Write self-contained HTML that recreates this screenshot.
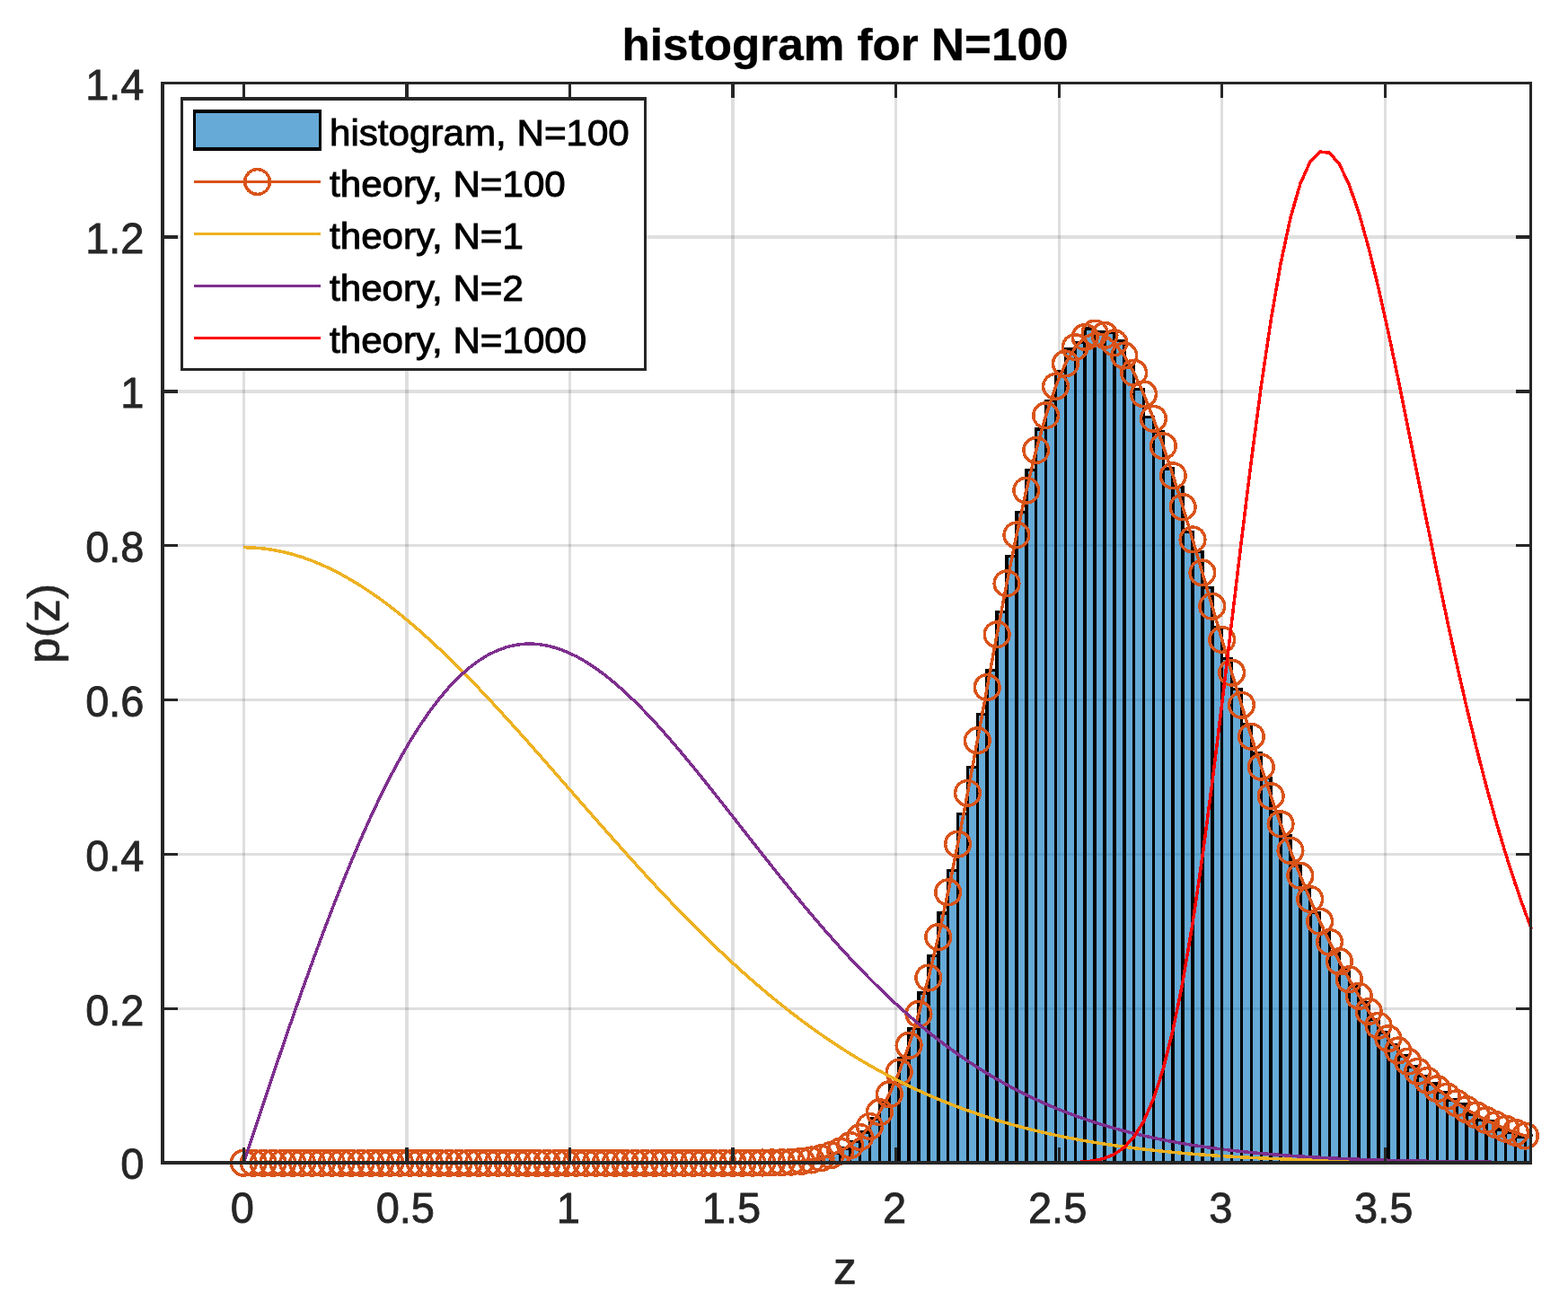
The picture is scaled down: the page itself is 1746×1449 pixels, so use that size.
<!DOCTYPE html>
<html lang="en"><head><meta charset="utf-8"><title>histogram for N=100</title>
<style>html,body{margin:0;padding:0;background:#fff}svg{display:block}text{font-family:"Liberation Sans",sans-serif}.tk{font-size:47px;fill:#262626;stroke:#262626;stroke-width:0.8px}.lb{font-size:51.7px;fill:#262626;stroke:#262626;stroke-width:0.7px}.ti{font-size:51.25px;font-weight:bold;fill:#000;stroke:#000;stroke-width:0.4px}.lg{font-size:42.15px;fill:#000;stroke:#000;stroke-width:1px}</style></head><body>
<svg width="1746" height="1449" viewBox="0 0 1746 1449">
<rect width="1746" height="1449" fill="#fff"/>
<defs><clipPath id="ax"><rect x="181" y="91.36" width="1525" height="1204.81"/></clipPath></defs>
<g fill="#262626" fill-opacity="0.15">
<rect x="270" y="94" width="3" height="1199"/>
<rect x="451" y="94" width="4" height="1199"/>
<rect x="633" y="94" width="3" height="1199"/>
<rect x="814" y="94" width="4" height="1199"/>
<rect x="996" y="94" width="3" height="1199"/>
<rect x="1178" y="94" width="3" height="1199"/>
<rect x="1359" y="94" width="3" height="1199"/>
<rect x="1541" y="94" width="3" height="1199"/>
<rect x="183" y="1122" width="1520" height="3"/>
<rect x="183" y="950" width="1520" height="3"/>
<rect x="183" y="778" width="1520" height="3"/>
<rect x="183" y="606" width="1520" height="3"/>
<rect x="183" y="434" width="1520" height="4"/>
<rect x="183" y="262" width="1520" height="4"/>
</g>
<g clip-path="url(#ax)">
<g fill="#0072bd" fill-opacity="0.6" stroke="#000" stroke-width="3.5" stroke-linejoin="miter" shape-rendering="crispEdges">
<rect x="914.04" y="1288.41" width="10.89" height="6.76"/>
<rect x="924.93" y="1284.57" width="10.89" height="10.6"/>
<rect x="935.83" y="1279.03" width="10.89" height="16.14"/>
<rect x="946.72" y="1271.29" width="10.89" height="23.88"/>
<rect x="957.61" y="1260.78" width="10.89" height="34.39"/>
<rect x="968.51" y="1245.92" width="10.89" height="49.25"/>
<rect x="979.4" y="1229.11" width="10.89" height="66.06"/>
<rect x="990.3" y="1206.84" width="10.89" height="88.33"/>
<rect x="1001.19" y="1178.26" width="10.89" height="116.91"/>
<rect x="1012.09" y="1145.59" width="10.89" height="149.58"/>
<rect x="1022.98" y="1105.83" width="10.89" height="189.34"/>
<rect x="1033.87" y="1064.6" width="10.89" height="230.57"/>
<rect x="1044.77" y="1016.75" width="10.89" height="278.42"/>
<rect x="1055.66" y="969.66" width="10.89" height="325.51"/>
<rect x="1066.56" y="906.65" width="10.89" height="388.52"/>
<rect x="1077.45" y="854.6" width="10.89" height="440.57"/>
<rect x="1088.34" y="795.64" width="10.89" height="499.53"/>
<rect x="1099.24" y="746.52" width="10.89" height="548.65"/>
<rect x="1110.13" y="681.68" width="10.89" height="613.49"/>
<rect x="1121.03" y="619.48" width="10.89" height="675.69"/>
<rect x="1131.92" y="570.65" width="10.89" height="724.52"/>
<rect x="1142.82" y="523.36" width="10.89" height="771.81"/>
<rect x="1153.71" y="477.87" width="10.89" height="817.3"/>
<rect x="1164.6" y="446.49" width="10.89" height="848.68"/>
<rect x="1175.5" y="413.3" width="10.89" height="881.87"/>
<rect x="1186.39" y="389.01" width="10.89" height="906.16"/>
<rect x="1197.29" y="381.43" width="10.89" height="913.74"/>
<rect x="1208.18" y="366.06" width="10.89" height="929.11"/>
<rect x="1219.08" y="369.28" width="10.89" height="925.89"/>
<rect x="1229.97" y="370.22" width="10.89" height="924.95"/>
<rect x="1240.86" y="379.48" width="10.89" height="915.69"/>
<rect x="1251.76" y="407.11" width="10.89" height="888.06"/>
<rect x="1262.65" y="433.7" width="10.89" height="861.47"/>
<rect x="1273.55" y="464.49" width="10.89" height="830.68"/>
<rect x="1284.44" y="480.92" width="10.89" height="814.25"/>
<rect x="1295.33" y="521.95" width="10.89" height="773.22"/>
<rect x="1306.23" y="542.56" width="10.89" height="752.61"/>
<rect x="1317.12" y="592.35" width="10.89" height="702.82"/>
<rect x="1328.02" y="614.38" width="10.89" height="680.79"/>
<rect x="1338.91" y="654.47" width="10.89" height="640.7"/>
<rect x="1349.81" y="699.17" width="10.89" height="596"/>
<rect x="1360.7" y="733.31" width="10.89" height="561.86"/>
<rect x="1371.59" y="767.65" width="10.89" height="527.52"/>
<rect x="1382.49" y="806.82" width="10.89" height="488.35"/>
<rect x="1393.38" y="838.9" width="10.89" height="456.27"/>
<rect x="1404.28" y="866.7" width="10.89" height="428.47"/>
<rect x="1415.17" y="904.7" width="10.89" height="390.47"/>
<rect x="1426.07" y="930.69" width="10.89" height="364.48"/>
<rect x="1436.96" y="963.81" width="10.89" height="331.36"/>
<rect x="1447.85" y="990.62" width="10.89" height="304.55"/>
<rect x="1458.75" y="1016.61" width="10.89" height="278.56"/>
<rect x="1469.64" y="1039.18" width="10.89" height="255.99"/>
<rect x="1480.54" y="1061.77" width="10.89" height="233.4"/>
<rect x="1491.43" y="1080.91" width="10.89" height="214.26"/>
<rect x="1502.32" y="1098.75" width="10.89" height="196.42"/>
<rect x="1513.22" y="1116.86" width="10.89" height="178.31"/>
<rect x="1524.11" y="1135.49" width="10.89" height="159.68"/>
<rect x="1535.01" y="1150.02" width="10.89" height="145.15"/>
<rect x="1545.9" y="1163.42" width="10.89" height="131.75"/>
<rect x="1556.8" y="1176.15" width="10.89" height="119.02"/>
<rect x="1567.69" y="1187.81" width="10.89" height="107.36"/>
<rect x="1578.58" y="1198.44" width="10.89" height="96.73"/>
<rect x="1589.48" y="1207.04" width="10.89" height="88.13"/>
<rect x="1600.37" y="1216.26" width="10.89" height="78.91"/>
<rect x="1611.27" y="1224.97" width="10.89" height="70.2"/>
<rect x="1622.16" y="1229.84" width="10.89" height="65.33"/>
<rect x="1633.05" y="1241.01" width="10.89" height="54.16"/>
<rect x="1643.95" y="1247.26" width="10.89" height="47.91"/>
<rect x="1654.84" y="1249.03" width="10.89" height="46.14"/>
<rect x="1665.74" y="1257.87" width="10.89" height="37.3"/>
<rect x="1676.63" y="1261.43" width="10.89" height="33.74"/>
<rect x="1687.53" y="1266.15" width="10.89" height="29.02"/>
<rect x="1698.42" y="1264.67" width="10.89" height="30.5"/>
<rect x="1709.31" y="1269.93" width="10.89" height="25.24"/>
</g>
<polyline points="271.28,1295.17 282.17,1295.17 293.07,1295.17 303.96,1295.17 314.86,1295.17 325.75,1295.17 336.65,1295.17 347.54,1295.17 358.43,1295.17 369.33,1295.17 380.22,1295.17 391.12,1295.17 402.01,1295.17 412.9,1295.17 423.8,1295.17 434.69,1295.17 445.59,1295.17 456.48,1295.17 467.38,1295.17 478.27,1295.17 489.16,1295.17 500.06,1295.17 510.95,1295.17 521.85,1295.17 532.74,1295.17 543.63,1295.17 554.53,1295.17 565.42,1295.17 576.32,1295.17 587.21,1295.17 598.11,1295.17 609,1295.17 619.89,1295.17 630.79,1295.17 641.68,1295.17 652.58,1295.17 663.47,1295.17 674.37,1295.17 685.26,1295.17 696.15,1295.17 707.05,1295.17 717.94,1295.17 728.84,1295.17 739.73,1295.17 750.62,1295.17 761.52,1295.17 772.41,1295.17 783.31,1295.17 794.2,1295.17 805.1,1295.16 815.99,1295.15 826.88,1295.14 837.78,1295.1 848.67,1295.02 859.57,1294.86 870.46,1294.59 881.36,1294.1 892.25,1293.29 903.14,1291.96 914.04,1289.88 924.93,1286.73 935.83,1282.12 946.72,1275.57 957.61,1266.54 968.51,1254.46 979.4,1238.72 990.3,1218.76 1001.19,1194.09 1012.09,1164.35 1022.98,1129.34 1033.87,1089.06 1044.77,1043.74 1055.66,993.85 1066.56,940.1 1077.45,883.39 1088.34,824.79 1099.24,765.49 1110.13,706.75 1121.03,649.83 1131.92,595.93 1142.82,546.16 1153.71,501.48 1164.6,462.7 1175.5,430.4 1186.39,404.98 1197.29,386.64 1208.18,375.39 1219.08,371.07 1229.97,373.37 1240.86,381.85 1251.76,396 1262.65,415.22 1273.55,438.86 1284.44,466.28 1295.33,496.82 1306.23,529.84 1317.12,564.74 1328.02,600.94 1338.91,637.92 1349.81,675.24 1360.7,712.46 1371.59,749.25 1382.49,785.3 1393.38,820.36 1404.28,854.23 1415.17,886.75 1426.07,917.81 1436.96,947.32 1447.85,975.24 1458.75,1001.53 1469.64,1026.21 1480.54,1049.29 1491.43,1070.79 1502.32,1090.77 1513.22,1109.29 1524.11,1126.4 1535.01,1142.17 1545.9,1156.67 1556.8,1169.97 1567.69,1182.15 1578.58,1193.29 1589.48,1203.44 1600.37,1212.69 1611.27,1221.1 1622.16,1228.72 1633.05,1235.64 1643.95,1241.89 1654.84,1247.54 1665.74,1252.63 1676.63,1257.23 1687.53,1261.36 1698.42,1265.07 1709.31,1268.4 1720.21,1271.39" fill="none" stroke="#d95319" stroke-width="3.5" stroke-linejoin="round" shape-rendering="crispEdges"/>
</g>
<g fill="none" stroke="#d95319" stroke-width="3.5" shape-rendering="crispEdges">
<circle cx="271.28" cy="1295.17" r="13.85"/>
<circle cx="282.17" cy="1295.17" r="13.85"/>
<circle cx="293.07" cy="1295.17" r="13.85"/>
<circle cx="303.96" cy="1295.17" r="13.85"/>
<circle cx="314.86" cy="1295.17" r="13.85"/>
<circle cx="325.75" cy="1295.17" r="13.85"/>
<circle cx="336.65" cy="1295.17" r="13.85"/>
<circle cx="347.54" cy="1295.17" r="13.85"/>
<circle cx="358.43" cy="1295.17" r="13.85"/>
<circle cx="369.33" cy="1295.17" r="13.85"/>
<circle cx="380.22" cy="1295.17" r="13.85"/>
<circle cx="391.12" cy="1295.17" r="13.85"/>
<circle cx="402.01" cy="1295.17" r="13.85"/>
<circle cx="412.9" cy="1295.17" r="13.85"/>
<circle cx="423.8" cy="1295.17" r="13.85"/>
<circle cx="434.69" cy="1295.17" r="13.85"/>
<circle cx="445.59" cy="1295.17" r="13.85"/>
<circle cx="456.48" cy="1295.17" r="13.85"/>
<circle cx="467.38" cy="1295.17" r="13.85"/>
<circle cx="478.27" cy="1295.17" r="13.85"/>
<circle cx="489.16" cy="1295.17" r="13.85"/>
<circle cx="500.06" cy="1295.17" r="13.85"/>
<circle cx="510.95" cy="1295.17" r="13.85"/>
<circle cx="521.85" cy="1295.17" r="13.85"/>
<circle cx="532.74" cy="1295.17" r="13.85"/>
<circle cx="543.63" cy="1295.17" r="13.85"/>
<circle cx="554.53" cy="1295.17" r="13.85"/>
<circle cx="565.42" cy="1295.17" r="13.85"/>
<circle cx="576.32" cy="1295.17" r="13.85"/>
<circle cx="587.21" cy="1295.17" r="13.85"/>
<circle cx="598.11" cy="1295.17" r="13.85"/>
<circle cx="609" cy="1295.17" r="13.85"/>
<circle cx="619.89" cy="1295.17" r="13.85"/>
<circle cx="630.79" cy="1295.17" r="13.85"/>
<circle cx="641.68" cy="1295.17" r="13.85"/>
<circle cx="652.58" cy="1295.17" r="13.85"/>
<circle cx="663.47" cy="1295.17" r="13.85"/>
<circle cx="674.37" cy="1295.17" r="13.85"/>
<circle cx="685.26" cy="1295.17" r="13.85"/>
<circle cx="696.15" cy="1295.17" r="13.85"/>
<circle cx="707.05" cy="1295.17" r="13.85"/>
<circle cx="717.94" cy="1295.17" r="13.85"/>
<circle cx="728.84" cy="1295.17" r="13.85"/>
<circle cx="739.73" cy="1295.17" r="13.85"/>
<circle cx="750.62" cy="1295.17" r="13.85"/>
<circle cx="761.52" cy="1295.17" r="13.85"/>
<circle cx="772.41" cy="1295.17" r="13.85"/>
<circle cx="783.31" cy="1295.17" r="13.85"/>
<circle cx="794.2" cy="1295.17" r="13.85"/>
<circle cx="805.1" cy="1295.16" r="13.85"/>
<circle cx="815.99" cy="1295.15" r="13.85"/>
<circle cx="826.88" cy="1295.14" r="13.85"/>
<circle cx="837.78" cy="1295.1" r="13.85"/>
<circle cx="848.67" cy="1295.02" r="13.85"/>
<circle cx="859.57" cy="1294.86" r="13.85"/>
<circle cx="870.46" cy="1294.59" r="13.85"/>
<circle cx="881.36" cy="1294.1" r="13.85"/>
<circle cx="892.25" cy="1293.29" r="13.85"/>
<circle cx="903.14" cy="1291.96" r="13.85"/>
<circle cx="914.04" cy="1289.88" r="13.85"/>
<circle cx="924.93" cy="1286.73" r="13.85"/>
<circle cx="935.83" cy="1282.12" r="13.85"/>
<circle cx="946.72" cy="1275.57" r="13.85"/>
<circle cx="957.61" cy="1266.54" r="13.85"/>
<circle cx="968.51" cy="1254.46" r="13.85"/>
<circle cx="979.4" cy="1238.72" r="13.85"/>
<circle cx="990.3" cy="1218.76" r="13.85"/>
<circle cx="1001.19" cy="1194.09" r="13.85"/>
<circle cx="1012.09" cy="1164.35" r="13.85"/>
<circle cx="1022.98" cy="1129.34" r="13.85"/>
<circle cx="1033.87" cy="1089.06" r="13.85"/>
<circle cx="1044.77" cy="1043.74" r="13.85"/>
<circle cx="1055.66" cy="993.85" r="13.85"/>
<circle cx="1066.56" cy="940.1" r="13.85"/>
<circle cx="1077.45" cy="883.39" r="13.85"/>
<circle cx="1088.34" cy="824.79" r="13.85"/>
<circle cx="1099.24" cy="765.49" r="13.85"/>
<circle cx="1110.13" cy="706.75" r="13.85"/>
<circle cx="1121.03" cy="649.83" r="13.85"/>
<circle cx="1131.92" cy="595.93" r="13.85"/>
<circle cx="1142.82" cy="546.16" r="13.85"/>
<circle cx="1153.71" cy="501.48" r="13.85"/>
<circle cx="1164.6" cy="462.7" r="13.85"/>
<circle cx="1175.5" cy="430.4" r="13.85"/>
<circle cx="1186.39" cy="404.98" r="13.85"/>
<circle cx="1197.29" cy="386.64" r="13.85"/>
<circle cx="1208.18" cy="375.39" r="13.85"/>
<circle cx="1219.08" cy="371.07" r="13.85"/>
<circle cx="1229.97" cy="373.37" r="13.85"/>
<circle cx="1240.86" cy="381.85" r="13.85"/>
<circle cx="1251.76" cy="396" r="13.85"/>
<circle cx="1262.65" cy="415.22" r="13.85"/>
<circle cx="1273.55" cy="438.86" r="13.85"/>
<circle cx="1284.44" cy="466.28" r="13.85"/>
<circle cx="1295.33" cy="496.82" r="13.85"/>
<circle cx="1306.23" cy="529.84" r="13.85"/>
<circle cx="1317.12" cy="564.74" r="13.85"/>
<circle cx="1328.02" cy="600.94" r="13.85"/>
<circle cx="1338.91" cy="637.92" r="13.85"/>
<circle cx="1349.81" cy="675.24" r="13.85"/>
<circle cx="1360.7" cy="712.46" r="13.85"/>
<circle cx="1371.59" cy="749.25" r="13.85"/>
<circle cx="1382.49" cy="785.3" r="13.85"/>
<circle cx="1393.38" cy="820.36" r="13.85"/>
<circle cx="1404.28" cy="854.23" r="13.85"/>
<circle cx="1415.17" cy="886.75" r="13.85"/>
<circle cx="1426.07" cy="917.81" r="13.85"/>
<circle cx="1436.96" cy="947.32" r="13.85"/>
<circle cx="1447.85" cy="975.24" r="13.85"/>
<circle cx="1458.75" cy="1001.53" r="13.85"/>
<circle cx="1469.64" cy="1026.21" r="13.85"/>
<circle cx="1480.54" cy="1049.29" r="13.85"/>
<circle cx="1491.43" cy="1070.79" r="13.85"/>
<circle cx="1502.32" cy="1090.77" r="13.85"/>
<circle cx="1513.22" cy="1109.29" r="13.85"/>
<circle cx="1524.11" cy="1126.4" r="13.85"/>
<circle cx="1535.01" cy="1142.17" r="13.85"/>
<circle cx="1545.9" cy="1156.67" r="13.85"/>
<circle cx="1556.8" cy="1169.97" r="13.85"/>
<circle cx="1567.69" cy="1182.15" r="13.85"/>
<circle cx="1578.58" cy="1193.29" r="13.85"/>
<circle cx="1589.48" cy="1203.44" r="13.85"/>
<circle cx="1600.37" cy="1212.69" r="13.85"/>
<circle cx="1611.27" cy="1221.1" r="13.85"/>
<circle cx="1622.16" cy="1228.72" r="13.85"/>
<circle cx="1633.05" cy="1235.64" r="13.85"/>
<circle cx="1643.95" cy="1241.89" r="13.85"/>
<circle cx="1654.84" cy="1247.54" r="13.85"/>
<circle cx="1665.74" cy="1252.63" r="13.85"/>
<circle cx="1676.63" cy="1257.23" r="13.85"/>
<circle cx="1687.53" cy="1261.36" r="13.85"/>
<circle cx="1698.42" cy="1265.07" r="13.85"/>
</g>
<g clip-path="url(#ax)">
<polyline points="271.28,609.67 282.17,609.98 293.07,610.9 303.96,612.44 314.86,614.59 325.75,617.34 336.65,620.68 347.54,624.62 358.43,629.13 369.33,634.2 380.22,639.83 391.12,646 402.01,652.68 412.9,659.87 423.8,667.54 434.69,675.68 445.59,684.26 456.48,693.26 467.38,702.67 478.27,712.45 489.16,722.59 500.06,733.06 510.95,743.83 521.85,754.88 532.74,766.19 543.63,777.73 554.53,789.47 565.42,801.38 576.32,813.46 587.21,825.65 598.11,837.96 609,850.34 619.89,862.77 630.79,875.23 641.68,887.71 652.58,900.16 663.47,912.58 674.37,924.95 685.26,937.23 696.15,949.42 707.05,961.5 717.94,973.44 728.84,985.24 739.73,996.87 750.62,1008.32 761.52,1019.58 772.41,1030.64 783.31,1041.48 794.2,1052.1 805.1,1062.48 815.99,1072.62 826.88,1082.51 837.78,1092.14 848.67,1101.51 859.57,1110.61 870.46,1119.45 881.36,1128.01 892.25,1136.3 903.14,1144.31 914.04,1152.05 924.93,1159.51 935.83,1166.7 946.72,1173.62 957.61,1180.27 968.51,1186.65 979.4,1192.77 990.3,1198.63 1001.19,1204.24 1012.09,1209.6 1022.98,1214.71 1033.87,1219.59 1044.77,1224.24 1055.66,1228.66 1066.56,1232.86 1077.45,1236.85 1088.34,1240.63 1099.24,1244.21 1110.13,1247.6 1121.03,1250.81 1131.92,1253.84 1142.82,1256.69 1153.71,1259.38 1164.6,1261.91 1175.5,1264.29 1186.39,1266.53 1197.29,1268.62 1208.18,1270.59 1219.08,1272.43 1229.97,1274.15 1240.86,1275.76 1251.76,1277.26 1262.65,1278.66 1273.55,1279.97 1284.44,1281.18 1295.33,1282.31 1306.23,1283.36 1317.12,1284.33 1328.02,1285.23 1338.91,1286.07 1349.81,1286.84 1360.7,1287.55 1371.59,1288.21 1382.49,1288.82 1393.38,1289.38 1404.28,1289.9 1415.17,1290.37 1426.07,1290.8 1436.96,1291.2 1447.85,1291.57 1458.75,1291.9 1469.64,1292.21 1480.54,1292.49 1491.43,1292.75 1502.32,1292.98 1513.22,1293.19 1524.11,1293.39 1535.01,1293.56 1545.9,1293.72 1556.8,1293.87 1567.69,1294 1578.58,1294.12 1589.48,1294.23 1600.37,1294.32 1611.27,1294.41 1622.16,1294.49 1633.05,1294.56 1643.95,1294.63 1654.84,1294.69 1665.74,1294.74 1676.63,1294.79 1687.53,1294.83 1698.42,1294.87 1709.31,1294.9 1720.21,1294.93" fill="none" stroke="#edb120" stroke-width="3.5" stroke-linejoin="round" shape-rendering="crispEdges"/>
<polyline points="271.28,1295.17 282.17,1262.37 293.07,1229.69 303.96,1197.25 314.86,1165.16 325.75,1133.53 336.65,1102.47 347.54,1072.1 358.43,1042.51 369.33,1013.81 380.22,986.08 391.12,959.42 402.01,933.89 412.9,909.59 423.8,886.56 434.69,864.88 445.59,844.6 456.48,825.74 467.38,808.37 478.27,792.49 489.16,778.14 500.06,765.32 510.95,754.03 521.85,744.29 532.74,736.06 543.63,729.35 554.53,724.12 565.42,720.34 576.32,717.99 587.21,717.01 598.11,717.36 609,718.99 619.89,721.85 630.79,725.88 641.68,731.02 652.58,737.2 663.47,744.36 674.37,752.42 685.26,761.34 696.15,771.02 707.05,781.41 717.94,792.44 728.84,804.03 739.73,816.13 750.62,828.66 761.52,841.56 772.41,854.77 783.31,868.23 794.2,881.89 805.1,895.67 815.99,909.54 826.88,923.44 837.78,937.33 848.67,951.17 859.57,964.9 870.46,978.5 881.36,991.93 892.25,1005.15 903.14,1018.15 914.04,1030.89 924.93,1043.35 935.83,1055.51 946.72,1067.35 957.61,1078.86 968.51,1090.03 979.4,1100.85 990.3,1111.3 1001.19,1121.39 1012.09,1131.1 1022.98,1140.45 1033.87,1149.42 1044.77,1158.01 1055.66,1166.24 1066.56,1174.11 1077.45,1181.61 1088.34,1188.76 1099.24,1195.56 1110.13,1202.03 1121.03,1208.16 1131.92,1213.97 1142.82,1219.47 1153.71,1224.67 1164.6,1229.57 1175.5,1234.2 1186.39,1238.55 1197.29,1242.65 1208.18,1246.49 1219.08,1250.1 1229.97,1253.48 1240.86,1256.65 1251.76,1259.61 1262.65,1262.37 1273.55,1264.94 1284.44,1267.34 1295.33,1269.58 1306.23,1271.65 1317.12,1273.58 1328.02,1275.37 1338.91,1277.03 1349.81,1278.56 1360.7,1279.98 1371.59,1281.29 1382.49,1282.5 1393.38,1283.61 1404.28,1284.64 1415.17,1285.58 1426.07,1286.45 1436.96,1287.25 1447.85,1287.98 1458.75,1288.64 1469.64,1289.26 1480.54,1289.82 1491.43,1290.33 1502.32,1290.79 1513.22,1291.22 1524.11,1291.6 1535.01,1291.96 1545.9,1292.28 1556.8,1292.57 1567.69,1292.83 1578.58,1293.07 1589.48,1293.28 1600.37,1293.48 1611.27,1293.66 1622.16,1293.81 1633.05,1293.96 1643.95,1294.09 1654.84,1294.2 1665.74,1294.31 1676.63,1294.4 1687.53,1294.49 1698.42,1294.56 1709.31,1294.63 1720.21,1294.69" fill="none" stroke="#7e2f8e" stroke-width="3.5" stroke-linejoin="round" shape-rendering="crispEdges"/>
<polyline points="271.28,1295.17 282.17,1295.17 293.07,1295.17 303.96,1295.17 314.86,1295.17 325.75,1295.17 336.65,1295.17 347.54,1295.17 358.43,1295.17 369.33,1295.17 380.22,1295.17 391.12,1295.17 402.01,1295.17 412.9,1295.17 423.8,1295.17 434.69,1295.17 445.59,1295.17 456.48,1295.17 467.38,1295.17 478.27,1295.17 489.16,1295.17 500.06,1295.17 510.95,1295.17 521.85,1295.17 532.74,1295.17 543.63,1295.17 554.53,1295.17 565.42,1295.17 576.32,1295.17 587.21,1295.17 598.11,1295.17 609,1295.17 619.89,1295.17 630.79,1295.17 641.68,1295.17 652.58,1295.17 663.47,1295.17 674.37,1295.17 685.26,1295.17 696.15,1295.17 707.05,1295.17 717.94,1295.17 728.84,1295.17 739.73,1295.17 750.62,1295.17 761.52,1295.17 772.41,1295.17 783.31,1295.17 794.2,1295.17 805.1,1295.17 815.99,1295.17 826.88,1295.17 837.78,1295.17 848.67,1295.17 859.57,1295.17 870.46,1295.17 881.36,1295.17 892.25,1295.17 903.14,1295.17 914.04,1295.17 924.93,1295.17 935.83,1295.17 946.72,1295.17 957.61,1295.17 968.51,1295.17 979.4,1295.17 990.3,1295.17 1001.19,1295.17 1012.09,1295.17 1022.98,1295.17 1033.87,1295.17 1044.77,1295.17 1055.66,1295.17 1066.56,1295.17 1077.45,1295.17 1088.34,1295.17 1099.24,1295.17 1110.13,1295.17 1121.03,1295.17 1131.92,1295.17 1142.82,1295.17 1153.71,1295.16 1164.6,1295.14 1175.5,1295.09 1186.39,1294.95 1197.29,1294.64 1208.18,1293.96 1219.08,1292.6 1229.97,1290.03 1240.86,1285.52 1251.76,1278.02 1262.65,1266.26 1273.55,1248.74 1284.44,1223.91 1295.33,1190.31 1306.23,1146.83 1317.12,1092.82 1328.02,1028.33 1338.91,954.17 1349.81,871.9 1360.7,783.76 1371.59,692.5 1382.49,601.15 1393.38,512.83 1404.28,430.48 1415.17,356.7 1426.07,293.58 1436.96,242.64 1447.85,204.78 1458.75,180.31 1469.64,169.02 1480.54,170.23 1491.43,182.9 1502.32,205.77 1513.22,237.39 1524.11,276.27 1535.01,320.92 1545.9,369.89 1556.8,421.85 1567.69,475.61 1578.58,530.11 1589.48,584.45 1600.37,637.89 1611.27,689.82 1622.16,739.78 1633.05,787.42 1643.95,832.5 1654.84,874.85 1665.74,914.4 1676.63,951.14 1687.53,985.1 1698.42,1016.34 1709.31,1044.98 1720.21,1071.12" fill="none" stroke="#ff0000" stroke-width="3.5" stroke-linejoin="round" shape-rendering="crispEdges"/>
</g>
<g fill="#262626">
<rect x="270" y="1278" width="3" height="15"/>
<rect x="270" y="94" width="3" height="15"/>
<rect x="451" y="1278" width="4" height="15"/>
<rect x="451" y="94" width="4" height="15"/>
<rect x="633" y="1278" width="3" height="15"/>
<rect x="633" y="94" width="3" height="15"/>
<rect x="814" y="1278" width="4" height="15"/>
<rect x="814" y="94" width="4" height="15"/>
<rect x="996" y="1278" width="3" height="15"/>
<rect x="996" y="94" width="3" height="15"/>
<rect x="1178" y="1278" width="3" height="15"/>
<rect x="1178" y="94" width="3" height="15"/>
<rect x="1359" y="1278" width="3" height="15"/>
<rect x="1359" y="94" width="3" height="15"/>
<rect x="1541" y="1278" width="3" height="15"/>
<rect x="1541" y="94" width="3" height="15"/>
<rect x="183" y="1122" width="15" height="3"/>
<rect x="1688" y="1122" width="15" height="3"/>
<rect x="183" y="950" width="15" height="3"/>
<rect x="1688" y="950" width="15" height="3"/>
<rect x="183" y="778" width="15" height="3"/>
<rect x="1688" y="778" width="15" height="3"/>
<rect x="183" y="606" width="15" height="3"/>
<rect x="1688" y="606" width="15" height="3"/>
<rect x="183" y="434" width="15" height="4"/>
<rect x="1688" y="434" width="15" height="4"/>
<rect x="183" y="262" width="15" height="4"/>
<rect x="1688" y="262" width="15" height="4"/>
</g>
<g fill="#262626">
<rect x="179" y="91" width="4" height="1206"/>
<rect x="179" y="1293" width="1527" height="4"/>
<rect x="179" y="91" width="1527" height="3"/>
<rect x="1703" y="91" width="3" height="1206"/>
</g>
<rect x="1706" y="1263.3" width="1" height="2.4" fill="#000"/>
<rect x="1706" y="1033" width="1" height="1.2" fill="#ff0000"/>
<text class="tk" transform="translate(269.78 1362.3) scale(1 1.02)" text-anchor="middle">0</text>
<text class="tk" transform="translate(451.35 1362.3) scale(1 1.02)" text-anchor="middle">0.5</text>
<text class="tk" transform="translate(632.92 1362.3) scale(1 1.02)" text-anchor="middle">1</text>
<text class="tk" transform="translate(814.49 1362.3) scale(1 1.02)" text-anchor="middle">1.5</text>
<text class="tk" transform="translate(996.06 1362.3) scale(1 1.02)" text-anchor="middle">2</text>
<text class="tk" transform="translate(1177.63 1362.3) scale(1 1.02)" text-anchor="middle">2.5</text>
<text class="tk" transform="translate(1359.2 1362.3) scale(1 1.02)" text-anchor="middle">3</text>
<text class="tk" transform="translate(1540.77 1362.3) scale(1 1.02)" text-anchor="middle">3.5</text>
<text class="tk" transform="translate(160.5 1313.47) scale(1 1.02)" text-anchor="end">0</text>
<text class="tk" transform="translate(160.5 1141.64) scale(1 1.02)" text-anchor="end">0.2</text>
<text class="tk" transform="translate(160.5 969.81) scale(1 1.02)" text-anchor="end">0.4</text>
<text class="tk" transform="translate(160.5 797.98) scale(1 1.02)" text-anchor="end">0.6</text>
<text class="tk" transform="translate(160.5 626.15) scale(1 1.02)" text-anchor="end">0.8</text>
<text class="tk" transform="translate(160.5 454.32) scale(1 1.02)" text-anchor="end">1</text>
<text class="tk" transform="translate(160.5 282.49) scale(1 1.02)" text-anchor="end">1.2</text>
<text class="tk" transform="translate(160.5 110.66) scale(1 1.02)" text-anchor="end">1.4</text>
<text class="ti" transform="translate(941 67.2) scale(1 0.98)" text-anchor="middle">histogram for N=100</text>
<text class="lb" transform="translate(941 1430.1) scale(1 0.98)" text-anchor="middle">z</text>
<text class="lb" transform="translate(66.3 694.4) rotate(-90) scale(1 0.98)" text-anchor="middle">p(z)</text>
<rect x="201" y="108" width="519" height="305" fill="#fff"/>
<g fill="#262626">
<rect x="201" y="108" width="3" height="305"/>
<rect x="717" y="108" width="3" height="305"/>
<rect x="201" y="108" width="519" height="4"/>
<rect x="201" y="410" width="519" height="3"/>
</g>
<rect x="215" y="122" width="143" height="46" fill="#000"/>
<rect x="218" y="126" width="137" height="38" fill="#fff"/>
<rect x="218" y="126" width="137" height="38" fill="#0072bd" fill-opacity="0.6"/>
<rect x="216" y="201" width="141" height="3" fill="#d95319"/>
<rect x="216" y="259" width="141" height="3" fill="#edb120"/>
<rect x="216" y="317" width="141" height="3" fill="#7e2f8e"/>
<rect x="216" y="375" width="141" height="3" fill="#ff0000"/>
<circle cx="286.55" cy="202.5" r="13.85" fill="none" stroke="#d95319" stroke-width="3.5" shape-rendering="crispEdges"/>
<text class="lg" transform="translate(367 161.8) scale(1 0.97)" text-anchor="start">histogram, N=100</text>
<text class="lg" transform="translate(367 219.3) scale(1 0.97)" text-anchor="start">theory, N=100</text>
<text class="lg" transform="translate(367 277.3) scale(1 0.97)" text-anchor="start">theory, N=1</text>
<text class="lg" transform="translate(367 335.3) scale(1 0.97)" text-anchor="start">theory, N=2</text>
<text class="lg" transform="translate(367 393.3) scale(1 0.97)" text-anchor="start">theory, N=1000</text>
</svg></body></html>
